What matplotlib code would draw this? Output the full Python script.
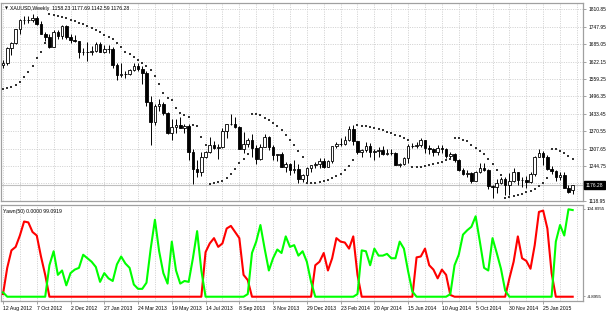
import matplotlib
matplotlib.use("Agg")
import matplotlib.pyplot as plt
from matplotlib import font_manager

names = {f.name for f in font_manager.fontManager.ttflist}
FAM = 'Liberation Sans Narrow' if 'Liberation Sans Narrow' in names else 'Liberation Sans'
plt.rcParams['font.family'] = [FAM, 'DejaVu Sans']

# ---------------- data (weekly XAUUSD, 12 Aug 2012 .. 15 Mar 2015) ----------------
opens = [1612,1616,1671,1691,1740,1772,1773,1772,1780,1758,1724,1712,1677,1730,1714,1751,1712,1702,1696,1659,
         1657,1656,1662,1687,1658,1667,1667,1609,1573,1576,1578,1592,1607,1596,1581,1476,1405,1462,1469,1435,
         1364,1386,1392,1383,1388,1296,1234,1223,1277,1296,1322,1310,1312,1371,1396,1396,1386,1308,1325,1338,
         1309,1272,1315,1351,1314,1286,1287,1243,1251,1230,1234,1197,1213,1237,1248,1254,1264,1240,1262,1318,
         1323,1326,1339,1379,1334,1294,1303,1318,1294,1300,1302,1287,1293,1292,1250,1252,1274,1316,1316,1320,
         1338,1310,1306,1294,1309,1305,1280,1287,1267,1230,1216,1218,1192,1222,1238,1231,1171,1169,1185,1197,
         1175,1191,1222,1195,1195,1187,1216,1277,1293,1279,1234,1228,1204,1213,1165,1158.23]
highs = [1627,1675,1692,1741,1777,1788,1787,1796,1786,1768,1728,1723,1737,1737,1754,1754,1723,1720,1698,1670,
         1694,1678,1694,1695,1684,1681,1675,1617,1617,1590,1597,1616,1616,1605,1587,1497,1469,1488,1477,1439,
         1416,1415,1424,1398,1397,1306,1267,1297,1300,1349,1336,1323,1384,1397,1434,1424,1389,1369,1346,1361,
         1320,1323,1361,1354,1322,1290,1297,1260,1257,1267,1251,1216,1240,1249,1259,1273,1275,1268,1318,1332,
         1346,1355,1391,1392,1337,1308,1332,1330,1305,1315,1316,1307,1306,1295,1257,1277,1325,1329,1332,1345,
         1339,1322,1311,1322,1320,1311,1296,1293,1270,1237,1229,1222,1228,1255,1255,1234,1177,1198,1207,1207,
         1220,1238,1224,1205,1210,1223,1282,1307,1298,1284,1245,1229,1224,1222,1175,1177.69]
lows = [1598,1612,1648,1685,1722,1757,1761,1765,1754,1721,1698,1672,1675,1703,1705,1705,1690,1693,1636,1648,
        1626,1645,1658,1656,1654,1653,1599,1555,1567,1562,1575,1590,1590,1540,1461,1321,1395,1443,1428,1359,
        1338,1366,1382,1366,1268,1180,1207,1209,1275,1293,1306,1270,1310,1348,1392,1383,1308,1292,1315,1277,
        1251,1268,1314,1303,1267,1262,1240,1225,1211,1218,1185,1186,1182,1222,1238,1238,1238,1240,1255,1311,
        1316,1321,1336,1322,1287,1277,1294,1277,1268,1277,1284,1284,1284,1250,1240,1250,1257,1310,1310,1314,
        1292,1287,1281,1284,1292,1275,1273,1258,1227,1214,1207,1183,1190,1220,1226,1161,1131,1146,1180,1142,
        1142,1188,1177,1170,1167,1183,1210,1276,1250,1232,1216,1191,1195,1164,1147,1142.59]
closes = [1616,1671,1691,1740,1772,1773,1772,1780,1758,1724,1712,1677,1730,1714,1751,1712,1702,1696,1659,1657,
          1656,1662,1687,1658,1667,1667,1609,1573,1576,1578,1592,1607,1596,1581,1476,1405,1462,1469,1435,1364,
          1386,1392,1383,1388,1296,1234,1223,1277,1296,1322,1310,1312,1371,1396,1396,1386,1308,1325,1338,1309,
          1272,1315,1351,1314,1286,1287,1243,1251,1230,1234,1197,1213,1237,1248,1254,1264,1240,1262,1318,1323,
          1326,1339,1379,1334,1294,1303,1318,1294,1300,1302,1287,1293,1292,1250,1252,1274,1316,1316,1320,1338,
          1310,1306,1294,1309,1305,1280,1287,1267,1230,1216,1218,1192,1222,1238,1231,1171,1169,1185,1197,1175,
          1191,1222,1195,1195,1187,1216,1277,1293,1279,1234,1228,1204,1213,1165,1152,1176.28]
sar = [1523,1526,1530,1537,1550,1566,1586,1608,1634,1658,1690,
       1794,1791,1787,1783,1779,1773,1769,1763,1758,1751,1745,1737,1728,1719,1710,1703,1691,1676,1658,1650,
       1638,1628,1616,1607,1592,1570,1541,1508,1490,1484,1454,1436,1429,1423,1393,1390,1351,1321,
       1180,1183,1187,1190,1200,1215,1235,1255,1272,1290,
       1434,1432,1428,1420,1410,1400,1390,1375,1358,1340,1322,1300,1276,
       1182,1183,1185,1188,1192,1196,1201,1208,1217,1229,1246,1266,
       1392,1391,1389,1386,1382,1378,1374,1369,1364,1358,1352,1346,1340,
       1240,1241,1243,1246,1249,1252,1256,1261,1266,1270,
       1347,1345,1340,1334,1322,1310,1300,1290,1272,1252,1232,1212,
       1131,1134,1137,1140,1145,1150,1156,1162,1172,1185,1200,
       1307,1305,1300,1292,1282,1270]
yawn_red = [3,33,53,57,70,86,85,74,70,46,25,
            0,0,0,0,0,0,0,0,0,0,0,0,0,0,0,0,0,0,0,0,0,0,0,0,0,0,0,0,0,0,0,0,0,0,0,0,0,
            51,61,67,57,61,78,81,74,67,25,19,
            0,0,0,0,0,0,0,0,0,0,0,0,0,0,0,
            36,40,50,30,44,67,63,62,55,69,25,
            0,0,0,0,0,0,0,0,0,0,0,0,0,
            45,46,55,36,31,21,31,25,2,
            0,0,0,0,0,0,0,0,0,0,0,0,0,
            21,40,69,44,41,32,59,97,98.5,78,27,
            0,0,0,0,0]
yawn_green = [5,0,0,0,0,0,0,0,0,0,0,
              36,52,25,30,13,27,31,33,48,44,40,34,17,27,21,18,37,46,38,33,
              14,9,9,16,55,88,52,27,15,63,30,15,18,17,44,75,30,
              0,0,0,0,0,0,0,0,0,0,
              3,
              50,63,82,55,30,44,54,50,69,57,59,47,52,40,17,
              0,0,0,0,0,0,0,0,0,0,
              3,
              53,52,36,55,47,47,49,44,44,63,55,29,6,
              0,0,0,0,0,0,0,0,
              3,
              36,48,71,76,80,92,63,33,30,67,50,32,7,
              0,0,0,0,0,0,0,0,0,0,0,
              63,82,70,100,99.0919]
date_labels = ["12 Aug 2012","7 Oct 2012","2 Dec 2012","27 Jan 2013","24 Mar 2013","19 May 2013",
               "14 Jul 2013","8 Sep 2013","3 Nov 2013","29 Dec 2013","23 Feb 2014","20 Apr 2014",
               "15 Jun 2014","10 Aug 2014","5 Oct 2014","30 Nov 2014","25 Jan 2015"]
price_ticks = [1810.85,1747.95,1685.05,1622.15,1559.25,1496.35,1433.45,1370.55,1307.65,1244.75,1181.85,1118.95]
bid = 1176.28

# ---------------- figure ----------------
W, H = 606, 313
fig = plt.figure(figsize=(W/100, H/100), dpi=100)
fig.patch.set_facecolor('white')
ax = fig.add_axes([1/W, 1-201/H, 582/W, 198/H])
ax2 = fig.add_axes([1/W, 1-301/H, 582/W, 96/H])

n = len(closes)
xs = list(range(n))
XL = (-0.474, 137.44)
GRID = '#c8c8c8'
FS = 3.5

for a in (ax, ax2):
    a.set_xlim(*XL)
    a.set_facecolor('white')
    for s in a.spines.values():
        s.set_color('#a0a0a0')
        s.set_linewidth(0.9)
    for k in range(0, n + 2, 4):
        a.axvline(k, color=GRID, lw=0.6, ls=(0, (1.2, 1.6)), zorder=0)

# main price panel
ax.set_ylim(1118.5, 1834.35)
for p in price_ticks:
    ax.axhline(p, color=GRID, lw=0.6, ls=(0, (1.2, 1.6)), zorder=0)
ax.axhline(bid, color='#c0c0c0', lw=0.8, zorder=1)

ax.vlines(xs, lows, highs, color='black', lw=0.7, zorder=2)
bottoms = [min(o, c) for o, c in zip(opens, closes)]
heights = [max(abs(c - o), 0.8) for o, c in zip(opens, closes)]
fcs = ['white' if c >= o else 'black' for o, c in zip(opens, closes)]
ax.bar(xs, heights, bottom=bottoms, width=0.62, color=fcs, edgecolor='black', linewidth=0.6, zorder=3)
ax.scatter(xs, sar, s=0.6, marker='s', color='#333333', linewidths=0, zorder=4)

ax.yaxis.tick_right()
ax.set_yticks(price_ticks)
ax.set_yticklabels(['' if abs(p - 1181.85) < 0.01 else f"{p:.2f}" for p in price_ticks])
ax.tick_params(axis='y', length=2, width=0.5, color='#808080', labelsize=FS, pad=2)
ax.set_xticks([])
ax.text(1.004, bid, f"{bid:.2f}", transform=ax.get_yaxis_transform(), ha='left', va='center',
        color='white', fontsize=FS, clip_on=False, zorder=10,
        bbox=dict(boxstyle='square,pad=0.35', fc='black', ec='black'))
ax.text(0.006, 0.983, '\u25bc', transform=ax.transAxes, fontsize=2.8, va='top', ha='left',
        family=['DejaVu Sans'])
ax.text(0.016, 0.985, 'XAUUSD,Weekly  1158.23 1177.69 1142.59 1176.28', transform=ax.transAxes,
        fontsize=FS + 0.2, va='top', ha='left')

# lower indicator panel
ax2.set_ylim(-4.8955, 104.8955)
ax2.plot(xs, yawn_red, color='#ff0000', lw=1.5, zorder=3, solid_joinstyle='round')
ax2.plot(xs, yawn_green, color='#00ff00', lw=1.5, zorder=4, solid_joinstyle='round')
ax2.yaxis.tick_right()
ax2.set_yticks([100.5, 0.3])
ax2.set_yticklabels(['104.8955', '-4.8955'])
ax2.tick_params(axis='y', length=1.5, width=0.5, color='#808080', labelsize=3.2, pad=1)
lab_idx = list(range(0, n, 8))
ax2.set_xticks(lab_idx)
ax2.set_xticklabels(date_labels, ha='left')
ax2.tick_params(axis='x', length=2, width=0.5, color='#808080', labelsize=FS + 0.2, pad=1.5)
ax2.text(0.004, 0.96, 'Yawn(50) 0.0000 99.0919', transform=ax2.transAxes, fontsize=FS + 0.2,
         va='top', ha='left')

fig.savefig('out.png', dpi=100, facecolor='white')
